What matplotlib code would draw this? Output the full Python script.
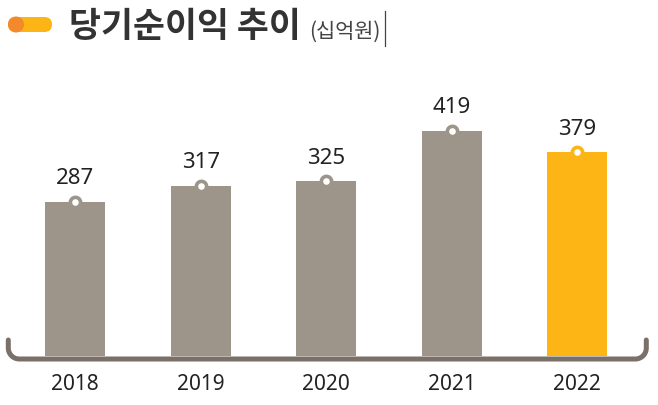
import matplotlib.pyplot as plt
from matplotlib.patches import FancyBboxPatch, Circle
import numpy as np

years = ['2018', '2019', '2020', '2021', '2022']
profit = [287, 317, 325, 419, 379]
colors = ['#9d958a', '#9d958a', '#9d958a', '#9d958a', '#fdb515']

plt.rcParams['font.family'] = ['Noto Sans', 'Noto Sans CJK KR', 'DejaVu Sans']

fig = plt.figure(figsize=(6.58, 4.06), dpi=100)

# main axes: baseline at 49px from bottom, 0.537 px per unit, 125.5 px per bar step
px_unit = 0.537
ax = fig.add_axes([0, 49 / 406, 652.6 / 658, 600 * px_unit / 406])
ax.set_xlim(-0.6, 4.6)
ax.set_ylim(0, 600)
ax.axis('off')

x = np.arange(len(years))
ax.bar(x, profit, width=0.478, color=colors, zorder=2)
for line_x, v, c in zip(x, profit, colors):
    ax.plot([line_x], [v], linestyle='none', marker='o', markersize=7.4,
            markeredgewidth=2.6, markerfacecolor='white', markeredgecolor=c, zorder=3)
    ax.annotate(str(v), (line_x, v), xytext=(0, 17.5), textcoords='offset points',
                ha='center', va='center', fontsize=16, color='#222222')

# baseline with curled ends
sx = 125.5
ybase = -3 / px_unit
r = 11
t = np.linspace(0, np.pi / 2, 30)
x_left = (8 - 75) / sx
x_right = (646 - 75) / sx
left_x = x_left + (r - r * np.cos(t)) / sx
left_y = ybase + (r - r * np.sin(t)) / px_unit
arc_l_x = np.concatenate([[x_left], left_x])
arc_l_y = np.concatenate([[ybase + 19 / px_unit], left_y])
right_x = x_right - (r - r * np.cos(t)) / sx
arc_r_x = np.concatenate([right_x[::-1], [x_right]])
arc_r_y = np.concatenate([left_y[::-1], [ybase + 19 / px_unit]])
bx = np.concatenate([arc_l_x, arc_r_x])
by = np.concatenate([arc_l_y, arc_r_y])
ax.plot(bx, by, color='#7b7068', linewidth=3.6, solid_capstyle='round', zorder=1,
        clip_on=False)

for xi, yr in zip(x, years):
    ax.annotate(yr, (xi, 0), xytext=(0, -20), textcoords='offset points',
                ha='center', va='center', fontsize=15, color='#222222',
                annotation_clip=False)

# title decoration
deco = fig.add_axes([0, 0, 1, 1], zorder=5)
deco.set_xlim(0, 658)
deco.set_ylim(406, 0)
deco.axis('off')
deco.add_patch(FancyBboxPatch((8, 18), 44, 15, boxstyle='round,pad=0,rounding_size=7.5',
                              color='#fdb515', linewidth=0))
deco.add_patch(Circle((16, 25.5), 8, color='#f2892a', linewidth=0))
deco.text(69, 26, '당기순이익 추이', fontsize=25, fontweight='bold', color='#333333',
          va='center', ha='left', family=['Noto Sans CJK KR'])
deco.text(309, 32, '(십억원)', fontsize=15, color='#444444', va='center', ha='left',
          family=['Noto Sans CJK KR'])
deco.plot([385, 385], [12, 47], color='#444444', linewidth=0.9)

fig.savefig('out.png', dpi=100)
